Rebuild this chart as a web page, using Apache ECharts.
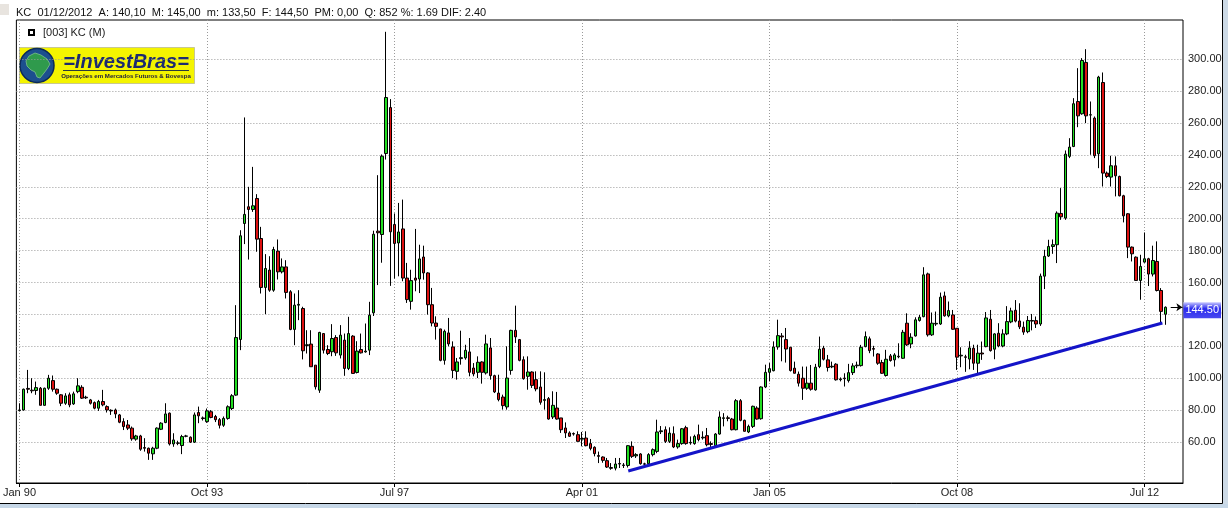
<!DOCTYPE html>
<html><head><meta charset="utf-8">
<script src="https://cdn.jsdelivr.net/npm/echarts@6/dist/echarts.min.js"></script>
<style>html,body{margin:0;padding:0;background:#fff}#c{width:1228px;height:508px}</style>
</head><body><div id="c"></div>
<script>
// ---- DATA (monthly KC, Jan 1990 .. Dec 2012) ----
const opens = [
79.7,80.1,93.6,92.5,92.3,93.7,83.0,93.7,98.5,93.1,89.6,84.3,
89.6,83.9,91.6,94.3,88.1,86.4,84.7,81.2,85.4,82.2,79.9,80.1,
77.0,72.8,70.7,68.7,61.8,63.8,56.5,56.1,52.6,56.1,68.0,72.2,
78.1,58.8,59.4,57.8,63.6,63.0,59.9,78.5,75.1,72.8,79.0,76.0,
74.0,70.5,74.8,81.0,89.4,124.3,197.0,207.5,205.8,212.7,187.6,156.9,
167.8,155.2,179.7,166.7,169.8,154.2,130.6,145.8,143.7,120.5,121.4,108.2,
92.5,128.0,118.0,116.6,125.5,114.5,123.9,106.1,126.4,103.6,118.0,116.5,
117.6,141.0,192.2,190.1,240.9,269.7,196.4,184.8,193.6,162.8,148.2,162.8,
162.2,176.0,166.0,146.1,134.6,130.9,111.2,128.4,119.6,104.3,112.3,112.7,
116.5,106.4,103.7,110.2,103.3,119.0,101.6,90.7,88.2,82.0,104.9,130.0,
124.2,111.6,101.2,103.9,99.1,94.5,86.1,87.2,75.7,81.3,75.1,68.8,
65.7,65.3,64.6,61.8,62.5,59.0,56.7,51.5,50.6,48.3,44.0,43.6,
46.5,45.3,45.3,57.3,51.3,52.5,46.3,46.4,52.1,54.1,66.5,67.7,
60.4,65.2,56.9,59.0,69.0,59.4,59.0,64.6,62.6,64.0,59.0,57.7,
65.0,74.8,75.2,74.4,67.7,85.9,73.6,66.3,69.8,81.3,74.6,94.5,
103.7,104.7,119.6,126.5,124.2,119.4,106.3,102.5,100.0,93.7,96.9,92.7,
107.3,118.8,111.5,107.1,108.8,99.1,100.1,98.5,103.5,107.8,107.9,119.8,
124.7,118.6,115.2,109.8,101.7,114.0,111.5,113.8,112.5,134.5,121.5,126.5,
136.2,138.6,165.4,127.2,134.0,134.0,151.6,139.1,139.7,131.3,114.0,113.4,
112.0,118.8,109.4,115.8,119.8,137.0,118.2,128.2,120.2,127.8,135.3,142.6,
135.9,132.0,129.2,136.2,136.1,134.0,164.0,176.6,182.6,183.7,203.3,200.4,
239.1,245.3,273.5,265.8,298.0,265.0,263.1,240.7,285.4,228.6,226.1,233.2,
226.5,214.4,203.1,182.2,175.9,161.3,172.8,174.9,165.3,173.2,155.0,140.1
];
const closes = [
80.1,93.1,93.1,92.1,94.1,83.0,93.7,100.0,93.1,90.6,84.3,88.9,
83.3,90.2,95.2,87.5,87.7,84.3,81.2,85.4,83.3,80.1,79.5,77.6,
72.4,69.7,68.7,62.0,63.8,55.5,56.1,53.0,56.1,68.7,71.8,77.6,
58.8,61.3,59.2,63.4,63.8,59.9,77.0,76.4,74.7,79.5,75.4,74.0,
70.5,74.8,82.1,89.0,125.5,189.3,202.7,205.8,208.1,187.2,156.9,168.8,
155.2,180.7,166.7,169.8,153.8,130.6,145.8,146.3,117.2,121.0,107.2,94.6,
128.7,117.6,115.5,124.9,115.9,127.0,106.1,128.0,103.0,117.0,115.9,117.0,
139.5,190.3,191.2,239.2,276.0,191.8,184.5,191.7,162.8,149.3,161.2,161.5,
174.8,166.0,146.1,134.6,132.5,111.2,129.4,121.5,104.9,110.2,112.9,117.5,
103.7,102.7,110.0,103.7,121.5,101.6,91.4,86.6,82.8,100.1,130.0,125.9,
111.2,99.7,103.9,95.5,93.3,84.9,86.6,74.4,83.0,74.4,67.7,65.7,
63.6,65.0,60.4,62.2,57.7,56.0,52.7,51.0,48.5,44.3,43.5,46.2,
46.2,45.6,57.7,51.0,52.1,46.4,46.1,52.1,55.2,66.3,67.0,60.4,
65.6,56.9,59.0,68.3,59.0,59.8,63.5,61.5,63.0,58.3,58.5,65.0,
75.7,75.2,74.8,67.7,85.9,73.6,66.7,69.8,82.4,74.4,94.5,103.7,
106.0,119.6,126.7,125.9,118.3,104.8,103.1,96.9,93.7,96.9,93.1,106.9,
118.2,111.9,106.7,107.5,99.0,99.5,99.7,103.5,107.7,108.2,119.4,126.1,
117.3,118.2,109.4,103.1,111.9,111.1,114.6,113.4,128.8,120.9,125.7,136.6,
138.2,164.8,127.2,134.5,134.4,150.8,139.1,142.4,130.7,113.2,114.4,113.1,
119.0,109.4,115.7,115.2,137.8,117.3,127.8,120.2,127.8,135.5,142.2,135.8,
132.2,128.9,136.2,135.8,134.0,164.0,176.4,182.6,183.7,203.5,201.2,240.5,
244.9,272.1,264.5,299.2,264.5,265.2,239.5,288.8,228.6,226.5,233.2,226.9,
214.4,201.8,182.2,178.0,161.3,170.1,174.9,165.3,173.8,155.0,141.9,144.5
];
const lows = [
79.1,79.7,90.6,90.6,89.6,83.0,82.8,92.7,91.6,89.6,82.5,83.3,
81.8,83.3,90.6,87.0,87.0,83.5,80.5,79.5,82.4,78.5,77.0,74.9,
71.8,67.5,67.5,60.8,60.8,54.5,54.0,48.8,48.8,55.5,67.5,71.8,
57.8,57.0,58.0,52.4,63.0,59.4,59.4,71.8,73.5,72.0,74.9,72.5,
68.5,69.5,74.0,80.0,89.0,117.6,184.1,174.4,204.3,179.3,153.1,140.2,
154.2,154.2,161.9,165.7,150.0,130.1,120.7,136.4,111.8,115.5,107.2,92.9,
90.8,115.5,114.5,113.8,114.0,112.4,101.5,105.1,103.0,103.0,115.5,116.0,
114.5,139.0,158.4,172.4,237.1,157.9,162.5,163.9,160.8,147.2,143.0,154.5,
153.4,161.8,139.9,132.5,124.2,110.6,108.5,120.0,100.1,99.1,108.5,111.6,
101.2,101.2,100.1,96.6,102.3,99.1,90.7,85.5,80.3,80.3,102.2,122.1,
110.6,99.1,92.8,93.9,91.8,83.4,80.3,74.0,74.4,74.0,65.7,62.5,
63.2,64.0,60.4,57.3,57.3,54.8,51.0,46.8,47.0,43.7,42.6,42.2,
43.7,43.7,44.0,50.0,50.0,45.8,45.0,46.0,51.0,53.0,65.0,59.4,
59.4,56.2,55.8,58.3,58.3,58.3,58.3,60.4,61.5,57.3,56.9,57.3,
64.6,69.8,73.0,67.3,67.3,73.0,66.7,65.6,68.8,74.0,74.0,93.8,
98.0,104.3,117.9,110.6,109.8,104.2,103.1,94.8,86.4,92.7,92.2,92.2,
106.3,111.1,104.2,106.3,98.5,98.0,94.8,97.3,102.0,106.3,107.3,119.4,
115.7,113.6,108.4,102.7,101.0,110.4,107.3,112.5,112.1,120.3,118.8,126.1,
135.5,138.2,126.1,126.5,132.8,133.4,138.6,138.2,130.3,105.2,106.9,104.0,
105.6,105.2,103.1,111.5,119.4,116.7,111.9,119.4,119.4,127.0,134.5,135.0,
130.8,127.2,128.2,130.0,131.5,132.8,155.9,176.0,178.0,172.2,199.3,199.3,
238.0,244.9,257.4,265.2,260.0,240.1,238.0,231.7,220.2,225.5,220.2,214.0,
214.0,197.7,175.3,173.2,161.3,149.2,172.4,157.8,163.8,154.4,134.6,133.5
];
const highs = [
84.3,93.5,105.2,100.0,97.9,94.5,94.1,102.1,101.7,93.5,90.0,90.6,
91.0,91.6,100.0,95.6,89.0,87.0,85.4,86.4,92.7,83.0,80.5,81.0,
77.6,74.9,73.8,69.7,64.5,64.5,62.4,56.5,57.0,69.2,72.4,84.3,
78.5,65.5,60.8,64.5,64.5,63.5,78.5,82.2,76.0,81.0,80.0,77.0,
75.0,76.0,83.0,90.0,145.8,192.8,263.5,220.0,232.5,215.4,194.9,177.8,
176.5,182.4,187.0,175.1,174.0,155.2,153.1,155.2,144.8,130.1,130.1,108.2,
129.1,128.0,120.7,133.9,127.0,133.3,128.0,138.5,127.0,123.2,128.0,134.3,
147.9,192.5,227.3,240.3,317.2,275.0,203.3,209.9,212.0,172.3,168.0,193.6,
183.7,183.1,166.5,156.6,138.8,131.0,130.5,137.8,123.1,112.7,129.8,121.0,
125.2,109.5,113.7,110.6,127.3,125.2,102.2,102.2,89.7,120.0,130.4,145.5,
124.6,113.7,113.7,104.3,104.3,104.3,103.7,88.2,91.8,91.4,75.1,72.3,
66.7,66.0,66.7,66.3,66.7,61.9,57.3,54.0,51.0,50.0,46.8,50.0,
50.0,46.8,58.0,60.4,53.0,53.0,47.0,53.0,56.0,74.0,70.0,69.8,
69.2,69.8,61.5,68.8,70.2,63.5,64.6,70.9,66.7,68.8,60.4,65.6,
79.2,78.1,76.5,75.1,86.9,86.9,74.0,70.9,82.8,82.4,94.9,108.5,
109.5,123.1,136.7,128.3,131.5,119.4,110.4,104.2,107.3,107.3,108.3,109.0,
126.1,120.3,114.6,110.4,109.4,100.5,103.1,109.0,109.4,110.4,120.9,129.3,
126.1,120.3,115.7,111.5,117.8,115.2,115.7,121.9,130.3,140.7,128.2,138.2,
139.7,169.6,166.2,141.2,141.8,153.7,154.3,148.1,142.8,131.3,119.4,114.7,
123.2,121.0,121.0,123.0,141.5,142.8,128.2,134.5,130.7,145.2,144.2,149.0,
147.0,135.5,139.0,140.3,138.7,165.6,180.5,186.8,187.0,204.6,219.2,242.8,
250.5,275.6,294.4,300.7,306.3,273.5,264.1,289.6,291.7,229.6,239.5,239.1,
227.0,215.0,203.5,182.6,176.4,177.4,191.4,175.5,183.1,185.8,156.5,145.0
];
const tickIdx = [0, 45, 90, 135, 180, 225, 270];
const tickLabels = ['Jan 90', 'Oct 93', 'Jul 97', 'Apr 01', 'Jan 05', 'Oct 08', 'Jul 12'];
const yTicks = [60, 80, 100, 120, 140, 160, 180, 200, 220, 240, 260, 280, 300];
const trendStart = [146.1, 41.8];
const trendEnd = [274.3, 134.6];
const lastPrice = 144.5;
const headerText = 'KC  01/12/2012  A: 140,10  M: 145,00  m: 133,50  F: 144,50  PM: 0,00  Q: 852 %: 1.69 DIF: 2.40';
const legendText = '[003] KC (M)';

// ---- build ----
const candles = opens.map((o, i) => [i, o, closes[i], lows[i], highs[i]]);
const FONT = '"Liberation Sans", Arial, sans-serif';

const chart = echarts.init(document.getElementById('c'), null, {renderer: 'canvas'});
chart.setOption({
  animation: false,
  backgroundColor: '#ffffff',
  grid: { left: 12.5, top: 20, width: 1170.5, height: 463, show: true, borderColor: '#000', borderWidth: 1, backgroundColor: '#fff', containLabel: false },
  xAxis: {
    type: 'value', min: -0.75, max: 279.25,
    axisLine: { show: true, lineStyle: { color: '#000', width: 1 } },
    axisTick: { show: true, customValues: tickIdx, length: 4, lineStyle: { color: '#000' } },
    axisLabel: { customValues: tickIdx, formatter: v => tickLabels[tickIdx.indexOf(v)] || '', fontSize: 11, fontFamily: FONT, color: '#222', margin: 4 },
    splitLine: { show: true, lineStyle: { color: '#9a9a9a', type: [1, 2], width: 1 } }
  },
  yAxis: {
    type: 'value', position: 'right', min: 34.3, max: 324.6,
    axisLine: { show: false },
    axisTick: { show: false, customValues: yTicks },
    axisLabel: { customValues: yTicks, formatter: v => v.toFixed(2), fontSize: 11, fontFamily: FONT, color: '#222', margin: 5 },
    splitLine: { show: true, lineStyle: { color: '#9a9a9a', type: [1, 2], width: 1 } }
  },
  series: [
    {
      type: 'candlestick', data: candles, barWidth: 3, z: 2,
      encode: { x: 0, y: [1, 2, 3, 4] },
      itemStyle: { color: '#22dd22', color0: '#dd1111', borderColor: '#000', borderColor0: '#000', borderColorDoji: '#000', borderWidth: 1 },
      markLine: {
        silent: true, z: 6, symbol: ['none', 'arrow'], symbolSize: [6, 6],
        lineStyle: { color: '#000', width: 1, type: 'solid' },
        label: {
          show: true, position: 'end', distance: 1, offset: [0, 3], formatter: () => lastPrice.toFixed(2),
          color: '#fff', fontSize: 11, fontFamily: FONT, padding: [3, 2, 2, 2],
          backgroundColor: new echarts.graphic.LinearGradient(0, 0, 0, 1, [
            { offset: 0, color: '#c8c8ff' }, { offset: 0.4, color: '#2a2aee' }, { offset: 1, color: '#4848f0' }
          ])
        },
        data: [[{ coord: [276.3, lastPrice] }, { coord: [279.1, lastPrice] }]]
      }
    },
    {
      type: 'line', data: [trendStart, trendEnd], symbol: 'none', z: 3,
      lineStyle: { color: '#1414c8', width: 3 }
    }
  ],
  graphic: [
    { type: 'rect', shape: { x: 1223, y: 0, width: 5, height: 508 }, style: { fill: '#cddae6' }, silent: true },
    { type: 'rect', shape: { x: 0, y: 504, width: 1228, height: 4 }, style: { fill: '#c6d7e7' }, silent: true },
    { type: 'line', shape: { x1: 0, y1: 503.5, x2: 1222.5, y2: 503.5 }, style: { stroke: '#000', lineWidth: 1 }, silent: true },
    { type: 'line', shape: { x1: 1222.5, y1: 0, x2: 1222.5, y2: 503.5 }, style: { stroke: '#000', lineWidth: 1 }, silent: true },
    { type: 'rect', shape: { x: 0, y: 4, width: 9, height: 11 }, style: { fill: '#e8e4df' }, silent: true },
    { type: 'text', x: 16, y: 12.5, style: { text: headerText, font: '11px ' + FONT, fill: '#111', verticalAlign: 'middle' }, silent: true },
    // legend
    { type: 'rect', shape: { x: 29, y: 30, width: 5, height: 5 }, style: { fill: '#fff', stroke: '#000', lineWidth: 2 }, z: 10, silent: true },
    { type: 'text', x: 43, y: 33, style: { text: legendText, font: '11px ' + FONT, fill: '#222', verticalAlign: 'middle' }, z: 10, silent: true },
    // logo
    { type: 'group', z: 10, silent: true, children: [
      { type: 'rect', shape: { x: 19.5, y: 47.5, width: 175, height: 36 }, style: { fill: '#f4f400', stroke: '#c8c890', lineWidth: 1 } },
      { type: 'circle', shape: { cx: 37, cy: 65.5, r: 17 }, style: { fill: '#1c4f8e', stroke: '#0c2a58', lineWidth: 1.5 } },
      { type: 'polygon', shape: { points: [[29,56],[35,53],[41,55],[47,59],[50,64],[47,69],[44,73],[40,78],[37,77],[35,72],[31,70],[27,66],[26,61]] }, style: { fill: '#2f9a4c', stroke: '#7cc08a', lineWidth: 0.8 } },
      { type: 'text', x: 126, y: 62, style: { text: '=InvestBras=', font: 'italic bold 20px ' + FONT, fill: '#1c2a70', align: 'center', verticalAlign: 'middle' } },
      { type: 'line', shape: { x1: 63, y1: 70.5, x2: 189, y2: 70.5 }, style: { stroke: '#2a3a40', lineWidth: 1 } },
      { type: 'text', x: 126, y: 76.5, style: { text: 'Operações em Mercados Futuros & Bovespa', font: 'bold 6.1px ' + FONT, fill: '#1a1a40', align: 'center', verticalAlign: 'middle' } }
    ]}
  ]
});
</script>
</body></html>
